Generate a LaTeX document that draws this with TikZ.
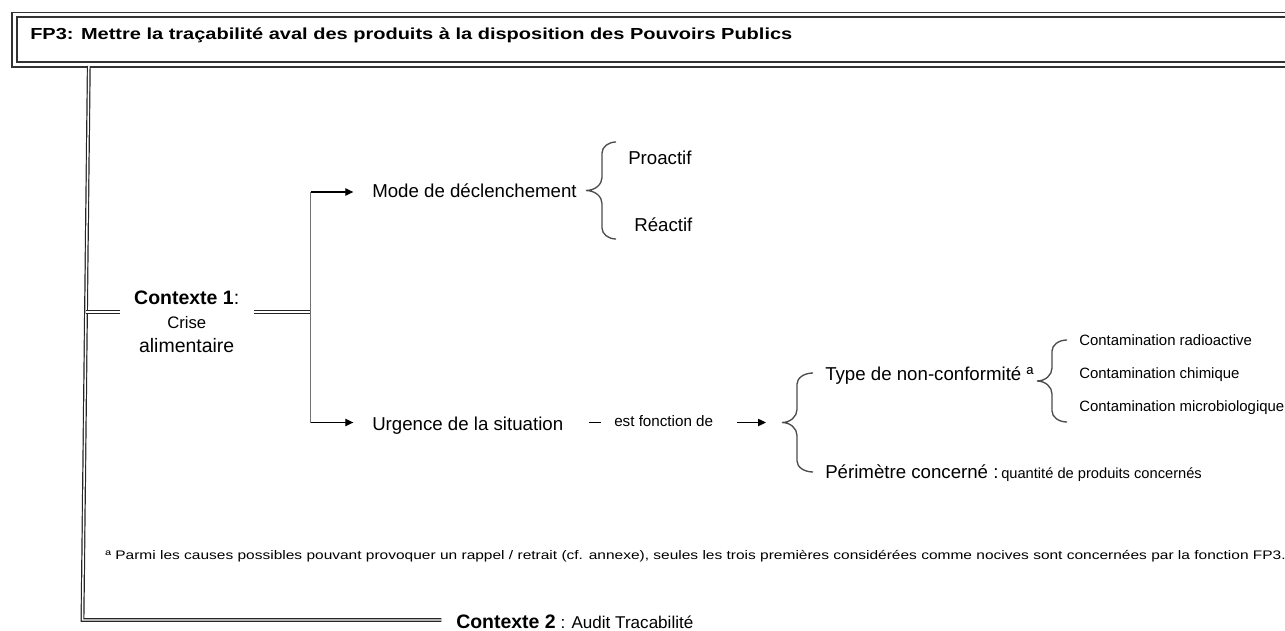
\documentclass[tikz,border=0pt]{standalone}
\usepackage{fontspec}
\setmainfont{Liberation Sans}
\newfontfamily\widefont{Liberation Sans}[FakeStretch=1.25]
\usetikzlibrary{arrows.meta}
\newcommand\curlyb[5]{% #1 xe, #2 yt, #3 yb, #4 xb, #5 xt
  \pgfmathsetmacro\ymid{(#2+#3)/2}
  \draw[brc] (#1,#2) .. controls ({#1-0.55*(#1-#4)},#2) and (#4,{#2+11-0.55*11}) .. (#4,{#2+11})
    -- (#4,{\ymid-13}) .. controls (#4,{\ymid-13+0.55*13}) and ({#5+0.55*(#4-#5)},\ymid) .. (#5,\ymid)
    .. controls ({#5+0.55*(#4-#5)},\ymid) and (#4,{\ymid+13-0.55*13}) .. (#4,{\ymid+13})
    -- (#4,{#3-11}) .. controls (#4,{#3-11+0.55*11}) and ({#1-0.55*(#1-#4)},#3) .. (#1,#3);}
\begin{document}
\begin{tikzpicture}[x=0.75pt,y=-0.75pt,
  txt/.style={inner sep=0pt, anchor=base west},
  ctr/.style={inner sep=0pt, anchor=base},
  main/.style={font=\fontsize{14pt}{16pt}\selectfont},
  small/.style={font=\fontsize{11.2pt}{13pt}\selectfont},
  dbl/.style={draw=black!85, line width=0.9pt, double=white, double distance=1.1pt},
  vln/.style={draw=black!55, line width=1.3pt},
  arr/.style={draw=black, line width=0.9pt, -{Triangle[length=6pt,width=5.5pt]}},
  brc/.style={draw=black!70, line width=1pt},
  titlebox/.style={draw=black!80, line width=1.4pt, double=white, double distance=2.2pt,
    inner sep=0pt, anchor=north west, minimum width=964.5pt, minimum height=37.1pt}
]
\useasboundingbox (0,0) rectangle (1285,631);
\clip (0,0) rectangle (1285,631);
\fill[white] (0,0) rectangle (1285,631);

% title
\node[titlebox] (box) at (13.8,14) {};
\node[txt, font=\widefont\fontsize{12pt}{14pt}\bfseries\selectfont] (ttl) at (30,40)
  {FP3: Mettre la traçabilité aval des produits à la disposition des Pouvoirs Publics};

% main vertical
\coordinate (vtop) at (88.8,66);
\coordinate (corner) at (82.5,620);
\coordinate (j0) at (85.8,312);
\coordinate (j1) at (310.5,312);
\coordinate (a1) at (310.5,192);
\coordinate (a2) at (310.5,422.5);

% texts
\node[ctr, font=\fontsize{14.6pt}{16pt}\selectfont] (c1) at (186.7,304.3) {\textbf{Contexte 1}:};
\node[ctr, font=\fontsize{12.5pt}{14pt}\selectfont] (crise) at (186.7,328.3) {Crise};
\node[ctr, font=\fontsize{14.6pt}{16pt}\selectfont] (alim) at (186.7,352.7) {alimentaire};

\node[txt, main] (mode) at (372,198) {Mode de déclenchement};
\node[txt, main] (urg) at (372,430) {Urgence de la situation};
\node[txt, main] (pro) at (628,165) {Proactif};
\node[txt, main] (rea) at (634,231) {Réactif};
\node[txt, font=\fontsize{11.4pt}{13pt}\selectfont] (fn) at (614,426.7) {est fonction de};
\node[txt, main] (type) at (825,380) {Type de non-conformité ª};
\node[txt, main] (peri) at (825,478.3) {Périmètre concerné :};
\node[txt, font=\fontsize{11pt}{13pt}\selectfont] (qte) at (1001,478.3) {quantité de produits concernés};
\node[txt, small] (ct1) at (1079,345) {Contamination radioactive};
\node[txt, small] (ct2) at (1079,378.3) {Contamination chimique};
\node[txt, small] (ct3) at (1079,411.7) {Contamination microbiologique};

\node[txt, font=\widefont\fontsize{9.3pt}{11pt}\selectfont] (foot) at (105,559.5)
  {ª Parmi les causes possibles pouvant provoquer un rappel / retrait (cf. annexe), seules les trois premières considérées comme nocives sont concernées par la fonction FP3.};

\node[txt, font=\fontsize{14.6pt}{16pt}\selectfont] (c2) at (456,628.5)
  {\textbf{Contexte 2}{\fontsize{12.8pt}{14pt}\selectfont\ : Audit Tracabilité}};

% connectors
\draw[dbl] (vtop) -- (corner) -- ([xshift=-11pt]corner -| c2.west);
\draw[dbl, shorten >=10.5pt] (j0) -- (j0 -| c1.west);
\draw[dbl, shorten <=11pt] (j1 -| c1.east) -- (j1);
\draw[vln] (a1) -- (a2);
\draw[arr, shorten >=14pt] (a1) -- (a1 -| mode.west);
\draw[arr, shorten >=14pt] (a2) -- (a2 -| urg.west);
\draw[draw=black, line width=0.9pt, shorten <=19pt, shorten >=9.5pt] (a2 -| urg.east) -- (a2 -| fn.west);
\coordinate (b2tip) at (782,422.5);
\draw[arr, shorten <=18pt, shorten >=12pt] (a2 -| fn.east) -- (b2tip);

% braces
\curlyb{616}{142}{239}{602}{586}
\curlyb{813}{373}{472}{797}{782}
\curlyb{1067}{340}{422}{1052}{1037}
\end{tikzpicture}
\end{document}
